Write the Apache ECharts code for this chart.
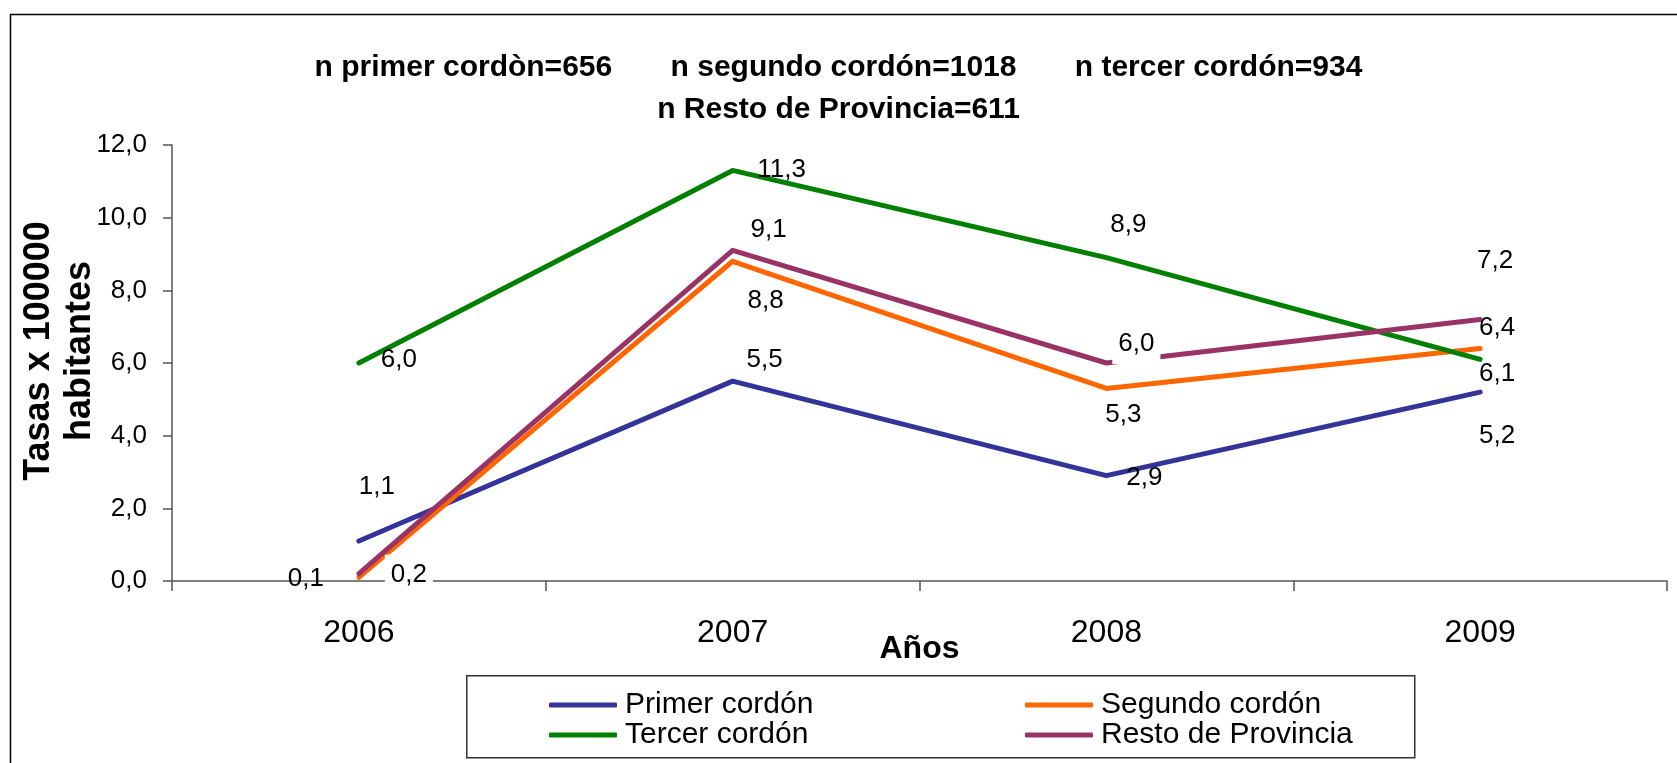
<!DOCTYPE html>
<html>
<head>
<meta charset="utf-8">
<script src="https://cdn.jsdelivr.net/npm/echarts@6/dist/echarts.min.js"></script>
<style>
  html, body { margin: 0; padding: 0; background: #fff; }
  #chart { width: 1677px; height: 763px; }
</style>
</head>
<body>
<div id="chart"></div>
<script>
// datos del gráfico
const years = ['2006', '2007', '2008', '2009'];
const primerCordon = [1.1, 5.5, 2.9, 5.2];
const segundoCordon = [0.1, 8.8, 5.3, 6.4];
const tercerCordon = [6.0, 11.3, 8.9, 6.1];
const restoProvincia = [0.2, 9.1, 6.0, 7.2];
const yMin = 0;
const yMax = 12;
const yStep = 2;

// desplazamiento de las etiquetas (estilo, no datos)
const offsPrimer = [[18, -54], [32, -21], [38, 2], [17, 44]];
const offsSegundo = [[-53, 1], [33, 40], [17, 26], [17, -21]];
const offsTercer = [[40, -3], [49, -1], [22, -33], [17, 14]];
const offsResto = [[50, 1], [36, -21], [30, -19], [15, -59]];

const FONT = "'Liberation Sans', Arial, sans-serif";
const fmt = (v) => Number(v).toFixed(1).replace('.', ',');

function makeSeries(name, values, offsets, color, whiteBg) {
  return {
    name: name,
    type: 'line',
    symbol: 'circle',
    symbolSize: 1,
    showSymbol: true,
    color: color,
    lineStyle: { width: 5, color: color, cap: 'round', join: 'round' },
    itemStyle: { color: color },
    label: {
      show: true,
      position: 'inside',
      formatter: (p) => fmt(p.value),
      fontFamily: FONT,
      fontSize: 26,
      color: '#000',
      backgroundColor: whiteBg ? '#fff' : 'transparent',
      padding: whiteBg ? [8, 6, 6, 6] : 0
    },
    emphasis: { disabled: true },
    animation: false,
    data: values.map((v, i) => ({ value: v, label: { offset: offsets[i] } }))
  };
}

const chart = echarts.init(document.getElementById('chart'));
chart.setOption({
  backgroundColor: '#fff',
  animation: false,
  title: {
    text: 'n primer cordòn=656       n segundo cordón=1018       n tercer cordón=934\nn Resto de Provincia=611',
    left: 'center',
    top: 47,
    padding: [0, 0, 0, 15],
    textStyle: {
      fontFamily: FONT,
      fontSize: 30,
      fontWeight: 'bold',
      color: '#000',
      lineHeight: 42
    }
  },
  graphic: [
    {
      type: 'rect',
      left: 8,
      top: 12,
      shape: { width: 1700, height: 800 },
      style: { fill: 'none', stroke: '#000', lineWidth: 1.5 },
      silent: true,
      z: -1
    },
    {
      type: 'rect',
      left: 466,
      top: 675,
      shape: { width: 948, height: 82 },
      style: { fill: '#fff', stroke: '#333', lineWidth: 1.5 },
      silent: true,
      z: 1
    }
  ],
  legend: [
    {
      data: ['Primer cordón', 'Tercer cordón'],
      orient: 'vertical',
      left: 544,
      top: 685,
      itemGap: 0,
      itemWidth: 68,
      itemHeight: 5,
      icon: 'roundRect',
      selectedMode: false,
      z: 5,
      textStyle: { fontFamily: FONT, fontSize: 30, color: '#000', lineHeight: 30, padding: [0, 0, 0, 3] }
    },
    {
      data: ['Segundo cordón', 'Resto de Provincia'],
      orient: 'vertical',
      left: 1020,
      top: 685,
      itemGap: 0,
      itemWidth: 68,
      itemHeight: 5,
      icon: 'roundRect',
      selectedMode: false,
      z: 5,
      textStyle: { fontFamily: FONT, fontSize: 30, color: '#000', lineHeight: 30, padding: [0, 0, 0, 3] }
    }
  ],
  grid: { left: 172, top: 145, right: 10, bottom: 182, containLabel: false },
  xAxis: {
    type: 'category',
    data: years,
    boundaryGap: true,
    name: 'Años',
    nameLocation: 'middle',
    nameGap: 52,
    nameMoveOverlap: false,
    nameTextStyle: { fontFamily: FONT, fontSize: 32, fontWeight: 'bold', color: '#000' },
    axisLine: { lineStyle: { color: '#555', width: 1.5 } },
    axisTick: { show: true, length: 10, lineStyle: { color: '#555', width: 1.5 } },
    axisLabel: { margin: 36, fontFamily: FONT, fontSize: 32, color: '#000' },
    splitLine: { show: false }
  },
  yAxis: {
    type: 'value',
    min: yMin,
    max: yMax,
    interval: yStep,
    name: 'Tasas x 100000\nhabitantes',
    nameLocation: 'middle',
    nameRotate: 90,
    nameGap: 71,
    nameMoveOverlap: false,
    nameTextStyle: { fontFamily: FONT, fontSize: 36, fontWeight: 'bold', color: '#000', lineHeight: 41, padding: [0, 0, 0, 24] },
    axisLine: { show: true, lineStyle: { color: '#555', width: 1.5 } },
    axisTick: { show: true, length: 9, lineStyle: { color: '#555', width: 1.5 } },
    axisLabel: { margin: 25, fontFamily: FONT, fontSize: 26, color: '#000', formatter: fmt },
    splitLine: { show: false }
  },
  series: [
    makeSeries('Primer cordón', primerCordon, offsPrimer, '#333399', false),
    makeSeries('Segundo cordón', segundoCordon, offsSegundo, '#FF6600', false),
    makeSeries('Tercer cordón', tercerCordon, offsTercer, '#008000', false),
    makeSeries('Resto de Provincia', restoProvincia, offsResto, '#993366', true)
  ]
});
</script>
</body>
</html>
